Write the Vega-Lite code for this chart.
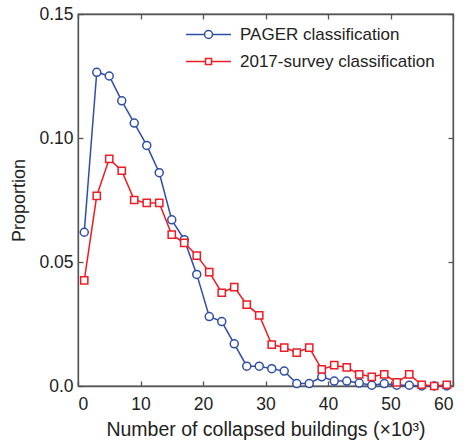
{
  "$schema": "https://vega.github.io/schema/vega-lite/v6.json",
  "autosize": "none",
  "padding": {"left": 78, "top": 14, "right": 17, "bottom": 55},
  "width": 375,
  "height": 372,
  "background": "white",
  "config": {
    "font": "Liberation Sans",
    "view": {"stroke": "#555", "strokeWidth": 1.3},
    "axis": {
      "domainColor": "#555", "domainWidth": 1.3, "tickColor": "#555", "tickWidth": 1.3,
      "tickSize": -5, "grid": false, "labelFont": "Liberation Sans", "labelFontSize": 17.5,
      "labelColor": "#222", "titleFont": "Liberation Sans", "titleFontSize": 19.5,
      "titleFontWeight": "normal", "titleColor": "#222"
    },
    "legend": {"labelFont": "Liberation Sans", "labelFontSize": 17, "labelColor": "#222", "labelLimit": 400}
  },
  "data": {"values": [
    {"x": 1, "p": 0.062, "series": "PAGER classification"},
    {"x": 3, "p": 0.1265, "series": "PAGER classification"},
    {"x": 5, "p": 0.125, "series": "PAGER classification"},
    {"x": 7, "p": 0.115, "series": "PAGER classification"},
    {"x": 9, "p": 0.106, "series": "PAGER classification"},
    {"x": 11, "p": 0.097, "series": "PAGER classification"},
    {"x": 13, "p": 0.086, "series": "PAGER classification"},
    {"x": 15, "p": 0.067, "series": "PAGER classification"},
    {"x": 17, "p": 0.059, "series": "PAGER classification"},
    {"x": 19, "p": 0.045, "series": "PAGER classification"},
    {"x": 21, "p": 0.028, "series": "PAGER classification"},
    {"x": 23, "p": 0.026, "series": "PAGER classification"},
    {"x": 25, "p": 0.017, "series": "PAGER classification"},
    {"x": 27, "p": 0.008, "series": "PAGER classification"},
    {"x": 29, "p": 0.008, "series": "PAGER classification"},
    {"x": 31, "p": 0.007, "series": "PAGER classification"},
    {"x": 33, "p": 0.006, "series": "PAGER classification"},
    {"x": 35, "p": 0.001, "series": "PAGER classification"},
    {"x": 37, "p": 0.001, "series": "PAGER classification"},
    {"x": 39, "p": 0.0037, "series": "PAGER classification"},
    {"x": 41, "p": 0.002, "series": "PAGER classification"},
    {"x": 43, "p": 0.002, "series": "PAGER classification"},
    {"x": 45, "p": 0.0012, "series": "PAGER classification"},
    {"x": 47, "p": 0.0003, "series": "PAGER classification"},
    {"x": 49, "p": 0.001, "series": "PAGER classification"},
    {"x": 51, "p": 0.0003, "series": "PAGER classification"},
    {"x": 53, "p": 0.0003, "series": "PAGER classification"},
    {"x": 55, "p": 0.0, "series": "PAGER classification"},
    {"x": 57, "p": 0.0, "series": "PAGER classification"},
    {"x": 59, "p": 0.0, "series": "PAGER classification"},
    {"x": 1, "p": 0.0426, "series": "2017-survey classification"},
    {"x": 3, "p": 0.0767, "series": "2017-survey classification"},
    {"x": 5, "p": 0.0916, "series": "2017-survey classification"},
    {"x": 7, "p": 0.0868, "series": "2017-survey classification"},
    {"x": 9, "p": 0.075, "series": "2017-survey classification"},
    {"x": 11, "p": 0.0738, "series": "2017-survey classification"},
    {"x": 13, "p": 0.0738, "series": "2017-survey classification"},
    {"x": 15, "p": 0.061, "series": "2017-survey classification"},
    {"x": 17, "p": 0.0577, "series": "2017-survey classification"},
    {"x": 19, "p": 0.0526, "series": "2017-survey classification"},
    {"x": 21, "p": 0.0459, "series": "2017-survey classification"},
    {"x": 23, "p": 0.0376, "series": "2017-survey classification"},
    {"x": 25, "p": 0.0399, "series": "2017-survey classification"},
    {"x": 27, "p": 0.0328, "series": "2017-survey classification"},
    {"x": 29, "p": 0.0285, "series": "2017-survey classification"},
    {"x": 31, "p": 0.0167, "series": "2017-survey classification"},
    {"x": 33, "p": 0.0155, "series": "2017-survey classification"},
    {"x": 35, "p": 0.0135, "series": "2017-survey classification"},
    {"x": 37, "p": 0.0155, "series": "2017-survey classification"},
    {"x": 39, "p": 0.0067, "series": "2017-survey classification"},
    {"x": 41, "p": 0.0084, "series": "2017-survey classification"},
    {"x": 43, "p": 0.0075, "series": "2017-survey classification"},
    {"x": 45, "p": 0.0047, "series": "2017-survey classification"},
    {"x": 47, "p": 0.0037, "series": "2017-survey classification"},
    {"x": 49, "p": 0.0047, "series": "2017-survey classification"},
    {"x": 51, "p": 0.0015, "series": "2017-survey classification"},
    {"x": 53, "p": 0.0047, "series": "2017-survey classification"},
    {"x": 55, "p": 0.0005, "series": "2017-survey classification"},
    {"x": 57, "p": 0.0, "series": "2017-survey classification"},
    {"x": 59, "p": 0.0005, "series": "2017-survey classification"}
  ]},
  "resolve": {"axis": {"x": "independent", "y": "independent"}},
  "layer": [
    {
      "mark": {"type": "line", "strokeWidth": 1.5},
      "encoding": {
        "x": {"field": "x", "type": "quantitative", "scale": {"domain": [0, 60], "nice": false},
          "axis": {"values": [0, 10, 20, 30, 40, 50, 60], "title": "Number of collapsed buildings (×10³)", "labelPadding": 14, "titlePadding": 8}},
        "y": {"field": "p", "type": "quantitative", "scale": {"domain": [0, 0.15], "nice": false},
          "axis": {"values": [0, 0.05, 0.1, 0.15], "labelExpr": "datum.value == 0 ? '0.0' : format(datum.value, '.2f')", "title": "Proportion", "titleFontSize": 18, "labelPadding": 10, "titlePadding": 10}},
        "color": {"field": "series", "type": "nominal",
          "scale": {"domain": ["PAGER classification", "2017-survey classification"], "range": ["#2f4ea6", "#ee1c24"]},
          "legend": {"title": null, "orient": "none", "legendX": 122, "legendY": 12, "padding": 0,
            "symbolSize": 100, "labelOffset": 23, "rowPadding": 9,
            "symbolStrokeWidth": 1.5, "symbolFillColor": "white",
            "encode": {"symbols": {"update": {"shape": {"signal": "datum.value === 'PAGER classification' ? 'M-4.5,0H-0.8M0.8,0H4.5M-0.8,0A0.8,0.8 0 1,0 0.8,0A0.8,0.8 0 1,0 -0.8,0Z' : 'M-4.5,0H-0.6M0.6,0H4.5M-0.6,-0.6H0.6V0.6H-0.6Z'"}, "fill": {"value": "white"}, "strokeWidth": {"value": 1.5}}}}}}
      }
    },
    {
      "transform": [{"filter": "datum.series === 'PAGER classification'"}],
      "mark": {"type": "point", "shape": "circle", "size": 64, "filled": false, "fill": "white", "fillOpacity": 1, "opacity": 1, "strokeWidth": 1.5},
      "encoding": {
        "x": {"field": "x", "type": "quantitative", "axis": {"orient": "top", "values": [0, 10, 20, 30, 40, 50, 60], "labels": false, "title": null}},
        "y": {"field": "p", "type": "quantitative", "axis": {"orient": "right", "values": [0, 0.05, 0.1, 0.15], "labels": false, "title": null}},
        "color": {"field": "series", "type": "nominal"}
      }
    },
    {
      "transform": [{"filter": "datum.series === '2017-survey classification'"}],
      "mark": {"type": "point", "shape": "square", "size": 52, "filled": false, "fill": "white", "fillOpacity": 1, "opacity": 1, "strokeWidth": 1.5},
      "encoding": {
        "x": {"field": "x", "type": "quantitative", "axis": null},
        "y": {"field": "p", "type": "quantitative", "axis": null},
        "color": {"field": "series", "type": "nominal"}
      }
    }
  ]
}
